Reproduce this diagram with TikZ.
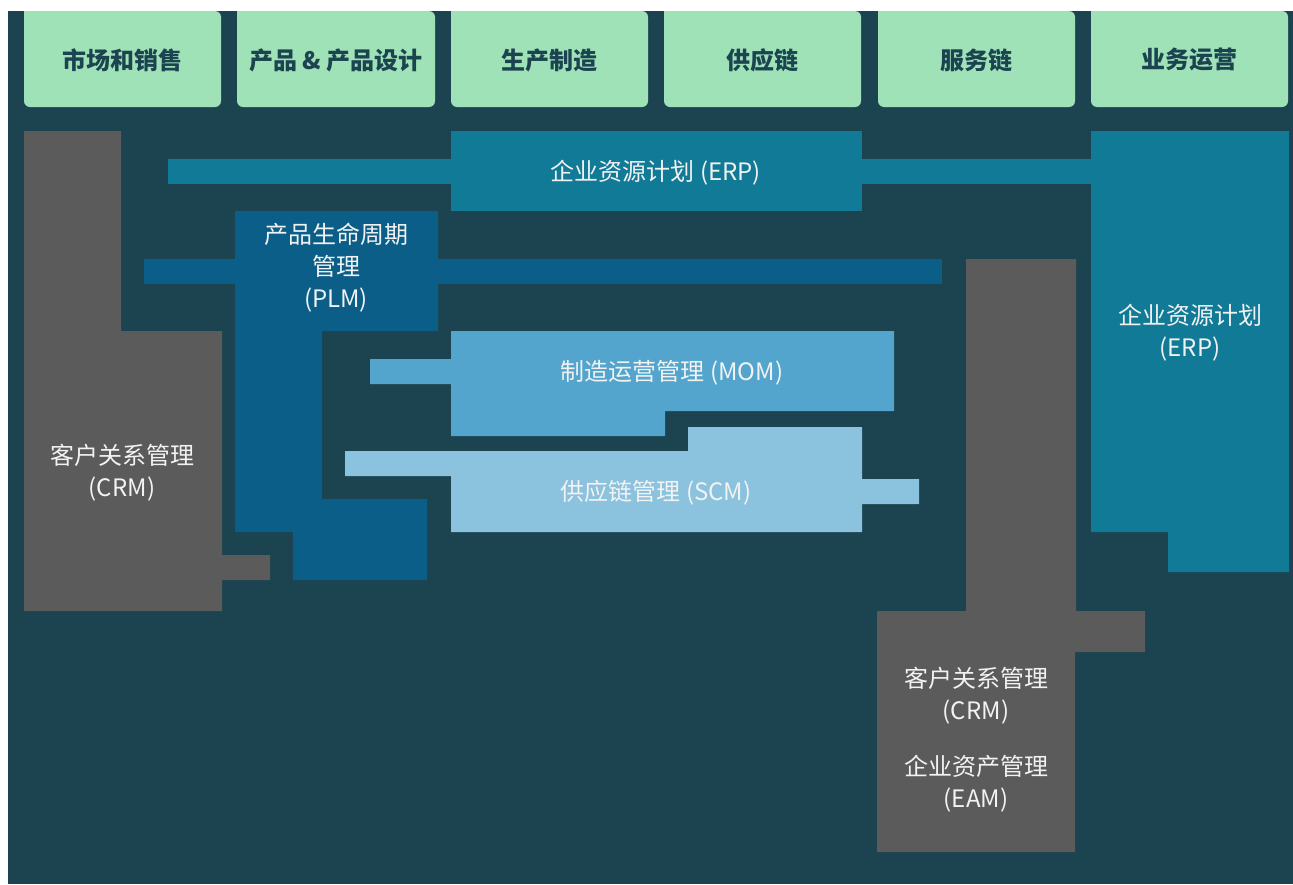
\documentclass[tikz,border=0pt]{standalone}
\usepackage{fontspec}
\setmainfont{Noto Sans CJK SC}
\definecolor{bgc}{RGB}{27,68,80}
\definecolor{hdr}{RGB}{160,226,184}
\definecolor{grayc}{RGB}{91,91,91}
\definecolor{erpc}{RGB}{17,122,150}
\definecolor{plmc}{RGB}{11,94,136}
\definecolor{momc}{RGB}{83,165,205}
\definecolor{scmc}{RGB}{139,194,222}
\definecolor{txtc}{RGB}{242,242,242}
\tikzset{
  hdrtext/.style={text=bgc,font=\fontsize{24}{30}\selectfont\bfseries,anchor=center},
  bodytext/.style={text=txtc,font=\fontsize{24}{32}\selectfont,align=center,anchor=center,inner sep=0pt},
}
\begin{document}
\begin{tikzpicture}[x=1pt,y=-1pt]
\useasboundingbox (0,0) rectangle (1293,884);
\fill[white] (0,0) rectangle (1293,884);
\fill[bgc] (8,11) rectangle (1293,884);
% headers
\foreach \xa/\xb in {24/221,237/435,451/648,664/861,878/1075,1091/1288}{
  \fill[hdr] (\xa,11) [rounded corners=6pt] -- (\xa,107) -- (\xb,107) -- (\xb,11) [sharp corners] -- cycle;
}
\node[hdrtext] (h1) at (122.5,60) {市场和销售};
\node[hdrtext] (h2) at (336,60) {产品 \& 产品设计};
\node[hdrtext] (h3) at (549.5,60) {生产制造};
\node[hdrtext] (h4) at (762.5,60) {供应链};
\node[hdrtext] (h5) at (976.5,60) {服务链};
\node[hdrtext] (h6) at (1189.5,60) {业务运营};
% CRM left
\fill[grayc] (24,131) -- (121,131) -- (121,331) -- (222,331) -- (222,555) -- (270,555) -- (270,580) -- (222,580) -- (222,611) -- (24,611) -- cycle;
% ERP
\fill[erpc] (168,159) rectangle (1091,184);
\fill[erpc] (451,131) rectangle (862,211);
\fill[erpc] (1091,131) -- (1289,131) -- (1289,572) -- (1168,572) -- (1168,532) -- (1091,532) -- cycle;
% PLM
\fill[plmc] (144,259) rectangle (942,284);
\fill[plmc] (235,211) -- (438,211) -- (438,331) -- (322,331) -- (322,499) -- (427,499) -- (427,580) -- (293,580) -- (293,532) -- (235,532) -- cycle;
% MOM
\fill[momc] (370,359) -- (451,359) -- (451,331) -- (894,331) -- (894,411) -- (665,411) -- (665,436) -- (451,436) -- (451,384) -- (370,384) -- cycle;
% SCM
\fill[scmc] (345,451) -- (688,451) -- (688,427) -- (862,427) -- (862,479) -- (919,479) -- (919,504) -- (862,504) -- (862,532) -- (451,532) -- (451,476) -- (345,476) -- cycle;
% CRM / EAM right
\fill[grayc] (966,259) -- (1076,259) -- (1076,611) -- (1145,611) -- (1145,652) -- (1075,652) -- (1075,852) -- (877,852) -- (877,611) -- (966,611) -- cycle;
% texts
\node[bodytext] (erp1) at (656,173) {企业资源计划 (ERP)};
\node[bodytext] (erp2) at (1190,333) {企业资源计划\\(ERP)};
\node[bodytext] (plm) at (336,268) {产品生命周期\\管理\\(PLM)};
\node[bodytext] (mom) at (672,373) {制造运营管理 (MOM)};
\node[bodytext] (scm) at (656,493) {供应链管理 (SCM)};
\node[bodytext] (crm1) at (122,473) {客户关系管理\\(CRM)};
\node[bodytext] (crm2) at (976,696) {客户关系管理\\(CRM)};
\node[bodytext] (eam) at (976,784) {企业资产管理\\(EAM)};
\end{tikzpicture}
\end{document}
